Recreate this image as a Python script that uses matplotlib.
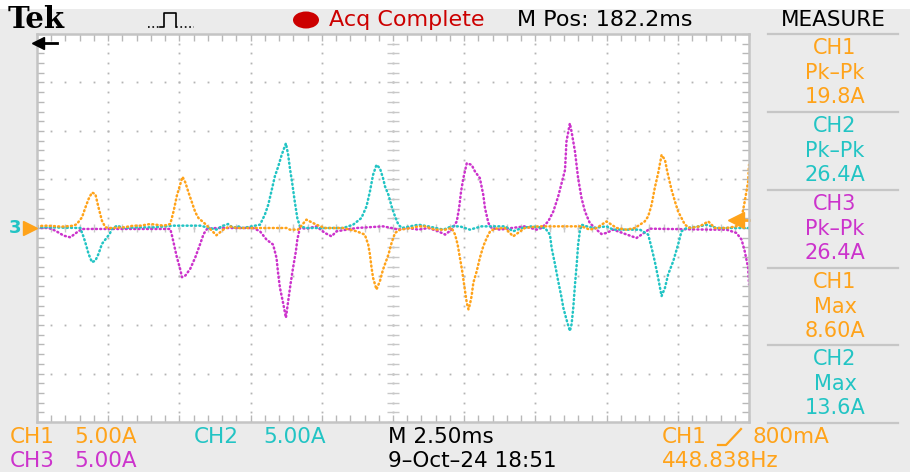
import numpy as np
import matplotlib
matplotlib.use("Agg")
import matplotlib.pyplot as plt
from matplotlib.patches import Ellipse, Rectangle
from matplotlib.lines import Line2D

# scope capture: time in ms (0..25, 2.5 ms/div), current in A (5 A/div)
ch1_t = [0.0, 0.35, 0.88, 1.29, 1.40, 1.58, 1.70, 1.81, 1.93, 2.05, 2.16, 2.28, 2.40, 2.57,
         3.04, 3.39, 3.63, 3.98, 4.45, 4.68, 4.80, 4.91, 5.03, 5.11, 5.21, 5.32, 5.44, 5.56,
         5.67, 5.91, 6.08, 6.30, 6.54, 6.77, 7.01, 8.76, 8.88, 9.17, 9.46, 9.81, 10.11, 10.75,
         11.22, 11.51, 11.63, 11.69, 11.74, 11.80, 11.92, 12.04, 12.15, 12.34, 12.45, 12.57,
         12.75, 13.16, 13.39, 13.62, 13.98, 14.33, 14.56, 14.68, 14.77, 14.85, 14.93, 15.03,
         15.09, 15.15, 15.20, 15.26, 15.32, 15.44, 15.55, 15.67, 15.79, 15.91, 16.08, 16.43,
         16.72, 17.13, 17.60, 18.54, 19.12, 19.41, 19.65, 20.00, 20.35, 20.70, 20.99, 21.17,
         21.34, 21.46, 21.58, 21.69, 21.81, 21.93, 22.05, 22.13, 22.28, 22.40, 22.51, 22.63,
         22.75, 22.92, 23.27, 23.57, 23.80, 24.21, 24.56, 24.74, 24.85, 24.97, 25.00]
ch1_a = [0.2, 0.24, 0.14, 0.24, 0.41, 1.10, 2.12, 2.98, 3.66, 3.49, 2.12, 0.75, 0.07, 0.0,
         0.07, 0.24, 0.24, 0.41, 0.24, 0.41, 1.78, 3.32, 4.52, 5.27, 4.69, 3.66, 2.64, 1.61,
         1.03, 0.41, -0.10, -0.75, -0.17, 0.17, 0.0, 0.0, -0.17, -0.17, 0.86, 0.34, 0.0, 0.0,
         -0.34, -0.68, -1.71, -2.74, -3.94, -5.14, -6.34, -5.48, -4.28, -2.74, -1.54, -0.51,
         -0.17, 0.0, 0.17, 0.17, -0.17, -0.17, 0.0, -0.68, -1.71, -3.08, -4.45, -6.51,
         -7.71, -8.39, -7.88, -7.02, -5.65, -4.45, -3.08, -1.88, -1.03, -0.34, -0.07, 0.0,
         -0.86, 0.0, 0.17, 0.17, 0.17, -0.17, 0.0, 0.68, 0.0, -0.17, 0.0, 0.34,
         0.68, 1.20, 2.40, 4.11, 5.65, 7.53, 7.02, 5.82, 3.94, 2.74, 1.71, 1.03,
         0.34, 0.0, 0.17, 0.68, 0.0, 0.0, 0.17, 1.03, 2.74, 4.79, 6.51]

ch2_t = [0.0, 0.35, 1.52, 1.64, 1.73, 1.81, 1.93, 2.05, 2.16, 2.28, 2.46, 2.55, 2.63, 2.81,
         3.04, 3.51, 4.10, 4.80, 5.73, 5.97, 6.30, 6.48, 6.71, 6.89, 7.06, 7.24, 7.83, 8.00,
         8.12, 8.23, 8.35, 8.47, 8.59, 8.74, 8.82, 8.88, 8.97, 9.05, 9.14, 9.23, 9.46, 10.75,
         11.10, 11.39, 11.57, 11.69, 11.80, 11.92, 12.04, 12.15, 12.22, 12.34, 12.45, 12.57,
         12.69, 12.81, 13.39, 13.74, 14.27, 14.56, 14.85, 15.20, 15.61, 16.43, 16.72, 17.02,
         17.37, 17.84, 18.01, 18.07, 18.19, 18.30, 18.42, 18.48, 18.59, 18.71, 18.77, 18.83,
         18.89, 18.95, 19.00, 19.06, 19.12, 19.30, 19.53, 20.00, 20.23, 21.17, 21.46, 21.58,
         21.69, 21.81, 21.93, 22.05, 22.16, 22.34, 22.51, 22.63, 22.81, 23.27, 23.51, 23.86,
         25.00]
ch2_a = [0.07, 0.07, 0.0, -0.96, -1.82, -2.67, -3.53, -3.36, -2.67, -1.64, -0.96, -0.62, -0.10, 0.24,
         0.0, 0.07, 0.07, 0.24, 0.24, 0.07, -0.17, 0.17, 0.41, 0.0, 0.17, 0.0, 0.34, 1.37,
         2.40, 3.77, 5.31, 6.34, 7.53, 8.73, 7.53, 6.16, 4.45, 2.74, 1.03, 0.17, 0.0, 0.0,
         0.34, 1.03, 2.23, 3.77, 5.48, 6.51, 6.16, 5.14, 4.28, 3.42, 2.23, 1.20,
         0.34, 0.0, 0.34, 0.17, -0.17, 0.17, 0.17, -0.17, 0.17, 0.17, -0.34, 0.0,
         0.17, 0.0, -0.68, -2.05, -3.77, -5.48, -7.19, -8.22, -9.42, -10.62, -9.93, -8.22,
         -5.82, -3.77, -1.71, -0.34, 0.34, 0.17, 0.0, 0.17, -0.17, -0.17, -0.68, -2.05,
         -3.42, -5.14, -7.02, -6.16, -4.79, -3.42, -1.71, -0.34, 0.0, 0.17, 0.34, 0.0,
         0.0]

ch3_t = [0.0, 0.41, 0.64, 0.94, 1.17, 1.40, 1.58, 4.68, 4.74, 4.82, 4.91, 5.01, 5.09, 5.21,
         5.38, 5.56, 5.73, 5.85, 5.97, 6.30, 7.59, 7.83, 8.06, 8.29, 8.41, 8.47, 8.53, 8.64,
         8.74, 8.82, 8.90, 8.99, 9.09, 9.14, 9.23, 9.46, 9.81, 10.11, 10.34, 10.52, 10.87, 11.22,
         12.15, 12.45, 12.69, 13.04, 13.39, 13.74, 14.09, 14.33, 14.56, 14.74, 14.82, 14.89,
         14.97, 15.09, 15.26, 15.38, 15.55, 15.67, 15.73, 15.85, 15.96, 16.26, 16.67, 17.13,
         17.54, 17.72, 17.95, 18.13, 18.30, 18.42, 18.54, 18.59, 18.71, 18.77, 18.89, 19.00,
         19.12, 19.24, 19.41, 19.65, 19.82, 20.00, 20.23, 21.05, 21.23, 21.52, 23.63, 24.21,
         24.56, 24.74, 24.85, 24.97, 25.00]
ch3_a = [0.0, 0.0, -0.27, -0.79, -0.96, -0.45, -0.10, -0.10, -0.79, -1.82, -3.01, -4.04, -5.07, -4.90,
         -4.21, -3.01, -1.64, -0.62, -0.10, 0.0, 0.0, -0.34, -1.20, -1.71, -3.08, -4.79, -6.16, -7.71,
         -9.25, -7.53, -5.82, -4.11, -2.40, -1.20, 0.0, -0.07, 0.17, -0.51, -0.86, -0.34, -0.17, 0.0,
         0.17, 0.0, -0.17, 0.0, -0.17, 0.0, -0.34, -0.68, -0.17, 0.68, 2.05, 3.77,
         5.14, 6.68, 6.51, 5.82, 5.14, 3.42, 2.05, 0.51, 0.0, -0.17, 0.0, 0.17,
         -0.17, 0.0, 0.68, 1.71, 3.25, 4.62, 5.99, 8.90, 10.79, 9.93, 7.88, 5.14,
         3.08, 1.71, 0.51, -0.17, -0.62, -0.51, -0.17, -1.03, -0.68, -0.07, -0.17, -0.17,
         -0.51, -1.20, -2.40, -4.11, -5.82]

trig_level = 0.8  # A

# measurement panel
meas_ch = ["CH1", "CH2", "CH3", "CH1", "CH2"]
meas_type = ["Pk–Pk", "Pk–Pk", "Pk–Pk", "Max", "Max"]
meas_val = ["19.8A", "26.4A", "26.4A", "8.60A", "13.6A"]

ORANGE = "#ffa31a"
CYAN = "#22c4c4"
MAGENTA = "#cc33cc"
RED = "#cc0000"
GRID = "#b4b4b4"
BG = "#ebebeb"
ch_color = {"CH1": ORANGE, "CH2": CYAN, "CH3": MAGENTA}

W, H = 910, 472


def fx(x):
    return x / W


def fy(y):
    return 1 - y / H


fig = plt.figure(figsize=(W / 100, H / 100), dpi=100)
fig.patch.set_facecolor("white")
fig.add_artist(Rectangle((0, 0), 1, fy(9), transform=fig.transFigure,
                         facecolor=BG, edgecolor="none", zorder=-10))

# graticule area
L, R, T, B = 37, 749, 34, 422
ax = fig.add_axes([fx(L), fy(B), (R - L) / W, (B - T) / H])
ax.set_xlim(0, 25)
ax.set_ylim(-20, 20)
ax.set_facecolor("white")
for sp in ax.spines.values():
    sp.set_color("#c4c4c4")
    sp.set_linewidth(1.8)
ax.set_xticks(np.arange(0, 25.01, 2.5))
ax.set_yticks(np.arange(-20, 20.01, 5))
ax.set_xticks(np.arange(0, 25.01, 0.5), minor=True)
ax.set_yticks(np.arange(-20, 20.01, 1), minor=True)
ax.tick_params(which="both", direction="in", length=5, width=1, color="#b8b8b8",
               top=True, right=True, labelbottom=False, labelleft=False)

# dotted division lines
xmin = np.arange(0, 25.01, 0.5)
ymin = np.arange(-20, 20.01, 1)
for gx in np.arange(2.5, 25, 2.5):
    ax.plot(np.full_like(ymin, gx), ymin, ls="none", marker="s", ms=1.3, color=GRID, mew=0)
for gy in np.arange(-15, 20, 5):
    ax.plot(xmin, np.full_like(xmin, gy), ls="none", marker="s", ms=1.3, color=GRID, mew=0)
# centre cross ticks
ax.plot(xmin, np.zeros_like(xmin), ls="none", marker="|", ms=6, color="#c8c8c8")
ax.plot(np.full_like(ymin, 12.5), ymin, ls="none", marker="_", ms=9, color="#c8c8c8")

trace = dict(lw=1.8, ls=(0, (0.4, 1.3)), dash_capstyle="round")
ax.plot(ch3_t, ch3_a, color=MAGENTA, **trace)
ax.plot(ch2_t, ch2_a, color=CYAN, **trace)
ax.plot(ch1_t, ch1_a, color=ORANGE, **trace)

# trigger level marker on the right edge
ax.plot([24.55], [trig_level], marker="<", ms=11, color=ORANGE, clip_on=False)
ax.plot([24.55, 25.0], [trig_level, trig_level], color=ORANGE, lw=2, clip_on=False)

# horizontal position arrow (top left)
fig.add_artist(Line2D([fx(40), fx(57)], [fy(43), fy(43)], color="black", lw=2))
fig.add_artist(Line2D([fx(38)], [fy(43)], marker="<", ms=8, color="black"))

# ground marker on the left
fig.text(fx(9), fy(228), "3", color=CYAN, fontsize=13, fontweight="bold", va="center")
fig.add_artist(Line2D([fx(30)], [fy(228)], marker=">", ms=10, color=ORANGE))

# top status bar
fig.text(fx(8), fy(19), "Tek", family="DejaVu Serif", fontweight="bold", fontsize=21,
         va="center", ha="left")
fig.add_artist(Line2D([fx(148), fx(160)], [fy(27), fy(27)], color="black", lw=1.2, ls=":"))
fig.add_artist(Line2D([fx(160), fx(164), fx(164), fx(176), fx(176)],
                      [fy(27), fy(27), fy(13), fy(13), fy(27)], color="black", lw=1.2))
fig.add_artist(Line2D([fx(176), fx(194)], [fy(27), fy(27)], color="black", lw=1.2, ls=":"))
fig.add_artist(Ellipse((fx(306), fy(20)), 26 / W, 17 / H, transform=fig.transFigure,
                       facecolor=RED, edgecolor="none"))
fig.text(fx(329), fy(20), "Acq Complete", color=RED, fontsize=16, va="center")
fig.text(fx(517), fy(20), "M Pos: 182.2ms", color="black", fontsize=16, va="center")
fig.text(fx(833), fy(20), "MEASURE", color="black", fontsize=15.5, va="center", ha="center")

# measure panel
seps = [34, 112, 190, 268, 345, 423]
for s in seps:
    fig.add_artist(Line2D([fx(768), fx(898)], [fy(s), fy(s)], color="#c6c6c6", lw=1.6))
for i in range(len(meas_ch)):
    c = ch_color[meas_ch[i]]
    top = seps[i]
    for off, txt in zip([14, 39, 63], [meas_ch[i], meas_type[i], meas_val[i]]):
        fig.text(fx(835), fy(top + off), txt, color=c, fontsize=15, ha="center", va="center")

# bottom readouts
fs = 15.5
fig.text(fx(10), fy(437), "CH1", color=ORANGE, fontsize=fs, va="center")
fig.text(fx(74), fy(437), "5.00A", color=ORANGE, fontsize=fs, va="center")
fig.text(fx(194), fy(437), "CH2", color=CYAN, fontsize=fs, va="center")
fig.text(fx(263), fy(437), "5.00A", color=CYAN, fontsize=fs, va="center")
fig.text(fx(388), fy(437), "M 2.50ms", color="black", fontsize=fs, va="center")
fig.text(fx(662), fy(437), "CH1", color=ORANGE, fontsize=fs, va="center")
fig.add_artist(Line2D([fx(718), fx(726), fx(741)], [fy(445), fy(445), fy(429)],
                      color=ORANGE, lw=1.6))
fig.text(fx(753), fy(437), "800mA", color=ORANGE, fontsize=fs, va="center")
fig.text(fx(10), fy(461), "CH3", color=MAGENTA, fontsize=fs, va="center")
fig.text(fx(74), fy(461), "5.00A", color=MAGENTA, fontsize=fs, va="center")
fig.text(fx(388), fy(461), "9–Oct–24 18:51", color="black", fontsize=fs, va="center")
fig.text(fx(662), fy(461), "448.838Hz", color=ORANGE, fontsize=fs, va="center")

fig.savefig("out.png", dpi=100, facecolor=fig.get_facecolor())
